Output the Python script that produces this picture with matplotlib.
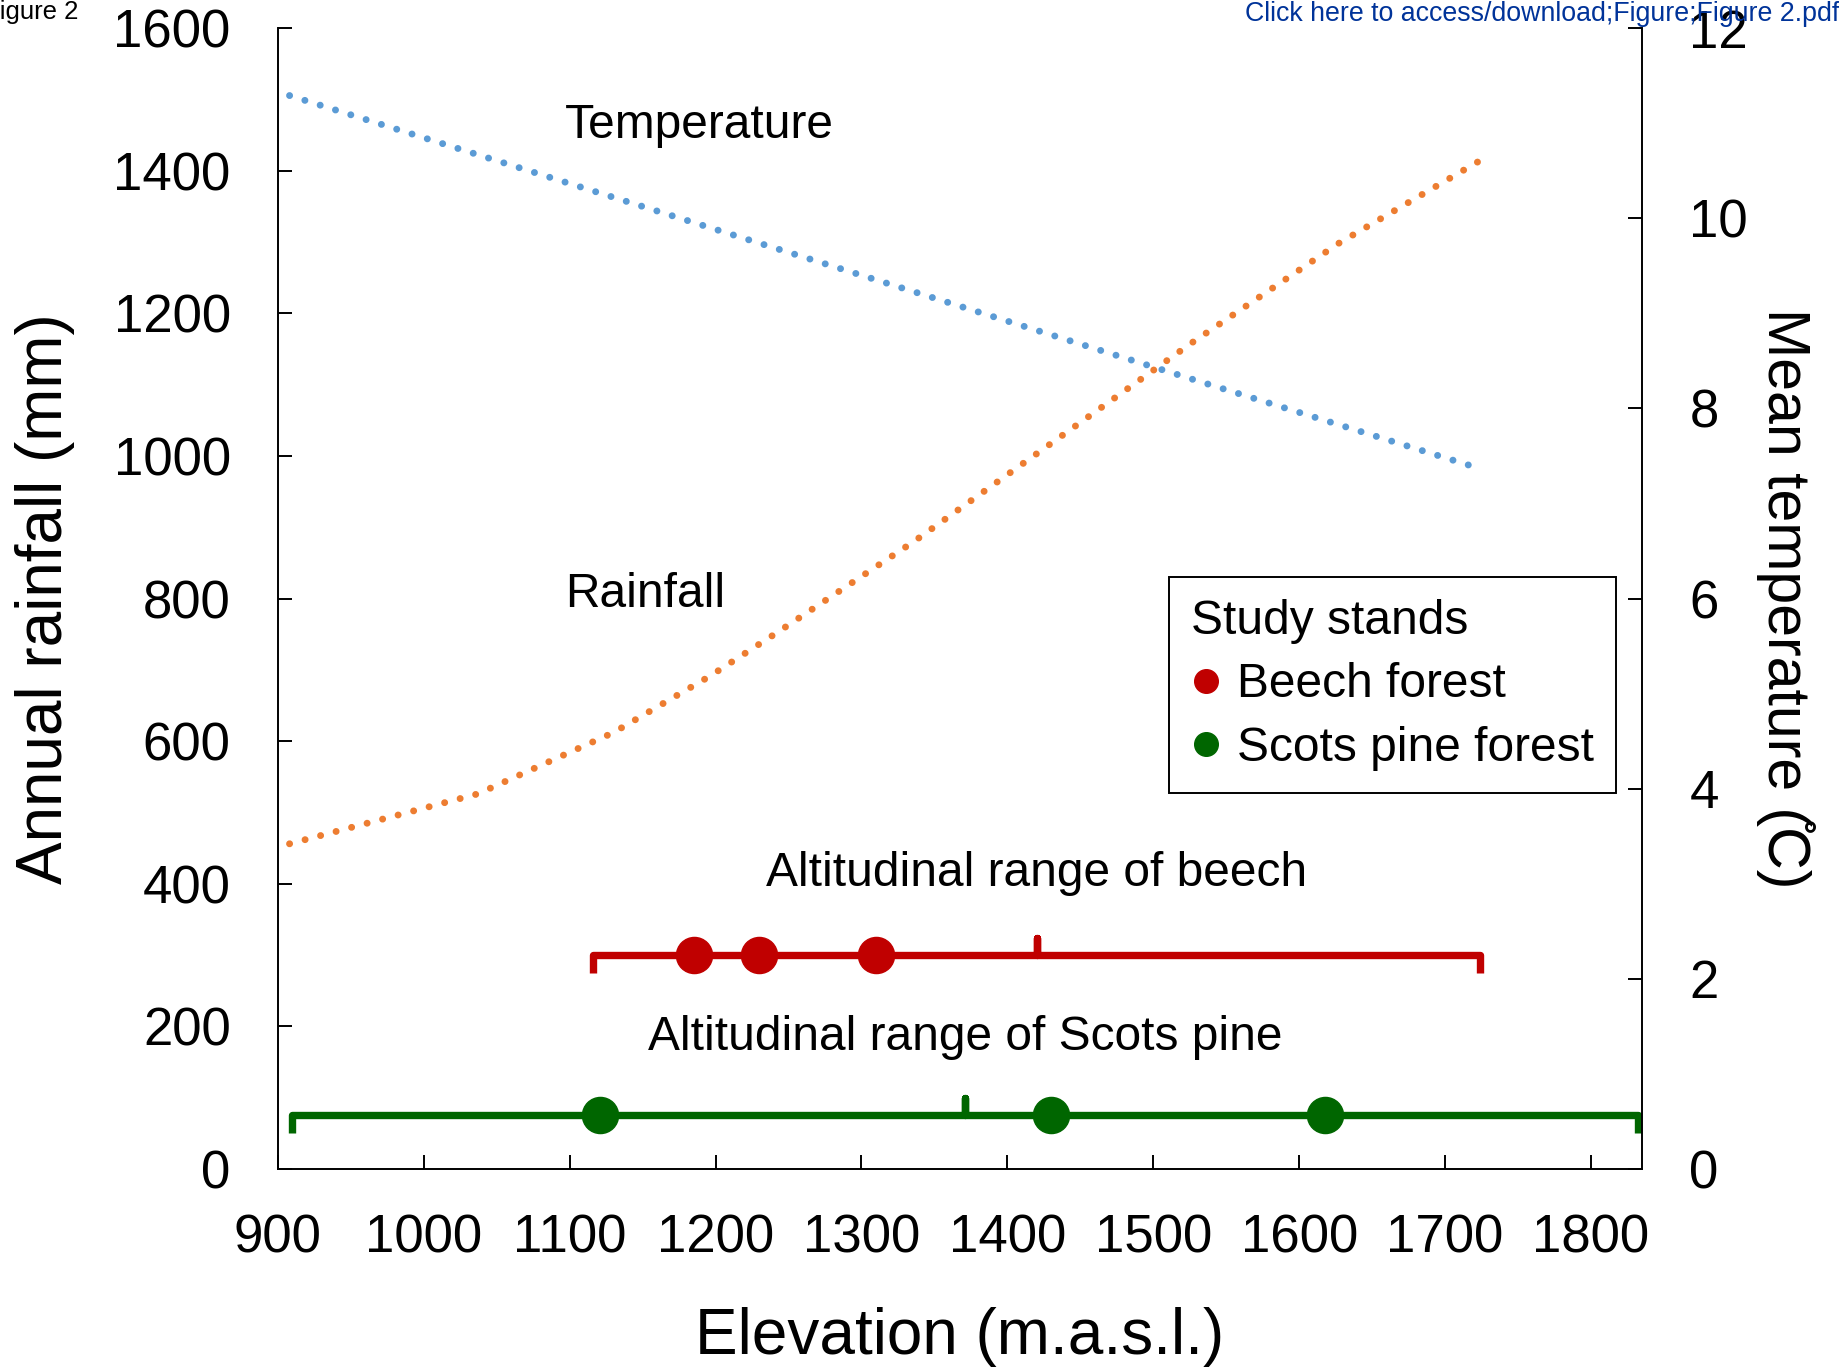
import matplotlib
matplotlib.use("Agg")
import matplotlib.pyplot as plt
from matplotlib.lines import Line2D

plt.rcParams['font.family'] = ['Liberation Sans', 'DejaVu Sans']

# ---- data ----
rain_elev = [908, 1037, 1130, 1196, 1242, 1336, 1444, 1526, 1627, 1723]
rain_mm = [456, 526, 612, 691, 752, 880, 1038, 1158, 1298, 1413]

temp_elev = [908, 1356, 1526, 1719]
temp_c = [11.29, 9.13, 8.31, 7.39]

beech_range = [1116, 1724]
beech_level = 300
beech_stands = [1185, 1230, 1310]

pine_range = [910, 1832]
pine_level = 75
pine_stands = [1121, 1430, 1618]

x_ticks = [900, 1000, 1100, 1200, 1300, 1400, 1500, 1600, 1700, 1800]
rain_ticks = [0, 200, 400, 600, 800, 1000, 1200, 1400, 1600]
temp_ticks = [0, 2, 4, 6, 8, 10, 12]

BLUE = '#5B9BD5'
ORANGE = '#ED7D31'
RED = '#C00000'
GREEN = '#006600'

fig = plt.figure(figsize=(18.39, 13.68), dpi=100)
ax = fig.add_axes([0.1511, 0.1455, 0.7418, 0.834])
ax.set_xlim(900, 1835)
ax.set_ylim(0, 1600)
ax2 = ax.twinx()
ax2.set_ylim(0, 12)

for a in (ax, ax2):
    a.spines['top'].set_visible(False)
    for s in a.spines.values():
        s.set_linewidth(1.4)
ax.spines['right'].set_visible(False)
ax2.spines['left'].set_visible(False)
ax2.spines['bottom'].set_visible(False)

ax.set_xticks(x_ticks)
ax.set_yticks(rain_ticks)
ax2.set_yticks(temp_ticks)
ax.tick_params(axis='both', direction='in', length=10, width=1.4,
               labelsize=38, colors='black')
ax.tick_params(axis='y', pad=34)
ax.tick_params(axis='x', pad=32)
ax2.tick_params(axis='y', direction='in', length=10, width=1.4,
                labelsize=38, pad=34)

dot = (0, (0.01, 2.3))
ax.plot(rain_elev, rain_mm, color=ORANGE, lw=5, linestyle=dot,
        dash_capstyle='round')
ax2.plot(temp_elev, temp_c, color=BLUE, lw=5, linestyle=dot,
         dash_capstyle='round')

def brace(a, rng, level, color, depth=25, h=24):
    s, e = rng
    m = (s + e) / 2
    xs = [s, s, m, m, m, e, e]
    ys = [level - depth, level, level, level + h, level, level, level - depth]
    a.plot(xs, ys, color=color, lw=5.3, solid_joinstyle='round',
           solid_capstyle='butt', zorder=3)
    return m

bm = brace(ax, beech_range, beech_level, RED)
pm = brace(ax, pine_range, pine_level, GREEN)
ax.plot(beech_stands, [beech_level] * len(beech_stands), 'o', color=RED,
        ms=26, zorder=4)
ax.plot(pine_stands, [pine_level] * len(pine_stands), 'o', color=GREEN,
        ms=26, zorder=4)

ax.text(1097, 1464, 'Temperature', fontsize=34.5, ha='left', va='center')
ax.text(1097, 806, 'Rainfall', fontsize=34.5, ha='left', va='center')
ax.text(bm, 415, 'Altitudinal range of beech', fontsize=34.5, ha='center', va='center')
ax.text(pm, 185, 'Altitudinal range of Scots pine', fontsize=34.5, ha='center', va='center')

handles = [Line2D([], [], marker='o', ls='', color=RED, ms=17),
           Line2D([], [], marker='o', ls='', color=GREEN, ms=17)]
leg = ax2.legend(handles, ['Beech forest', 'Scots pine forest'],
                 title='Study stands', loc='upper left',
                 bbox_to_anchor=(0.653, 0.519), borderaxespad=0,
                 fontsize=34.5, title_fontsize=34.5, alignment='left',
                 fancybox=False, framealpha=1, edgecolor='black',
                 handlelength=0.6, handletextpad=0.35, labelspacing=0.38,
                 borderpad=0.47)
leg.get_frame().set_linewidth(1.4)
leg._legend_box.sep = 13

fig.text(0.0243, 0.5 * (0.1455 + 0.9795), 'Annual rainfall (mm)', fontsize=46,
         rotation=90, ha='center', va='center')
fig.text(0.971, 0.5 * (0.1455 + 0.9795), 'Mean temperature (\u030aC)', fontsize=42.5,
         rotation=270, ha='center', va='center')
fig.text(0.5 * (0.1511 + 0.8929), 0.0226, 'Elevation (m.a.s.l.)', fontsize=46,
         ha='center', va='center')

fig.text(-0.0087, 1.0, 'Figure 2', fontsize=18.5, ha='left', va='top')
fig.text(1.0, 0.999, 'Click here to access/download;Figure;Figure 2.pdf',
         fontsize=19.3, ha='right', va='top', color='#003399')

fig.savefig('out.png', dpi=100)
